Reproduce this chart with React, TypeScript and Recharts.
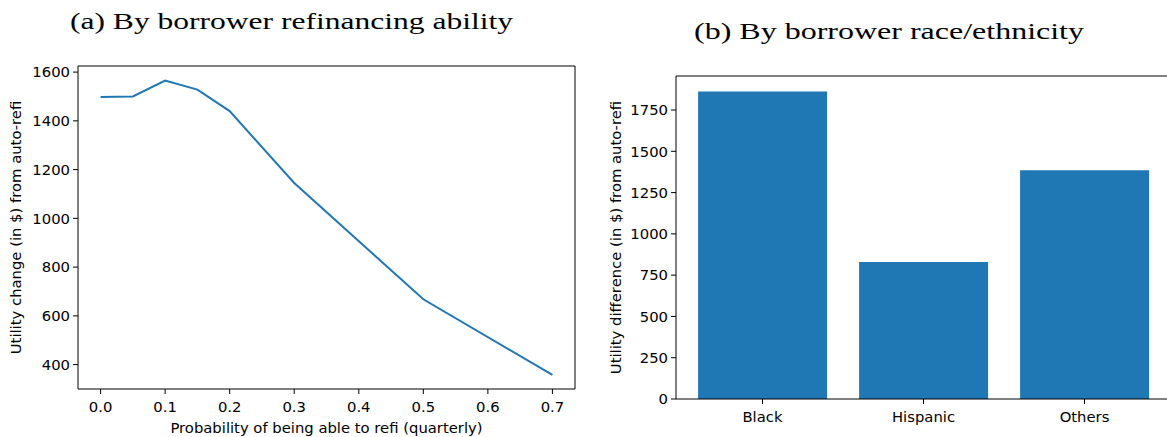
import React from "react";
import {
  Bar,
  BarChart,
  CartesianGrid,
  Label,
  Line,
  LineChart,
  XAxis,
  YAxis,
} from "recharts";

// (a) utility change by quarterly refi probability
const refiProbability = [0, 0.05, 0.1, 0.15, 0.2, 0.3, 0.5, 0.7];
const utilityChange = [1498, 1500, 1565, 1528, 1440, 1145, 668, 358];
const probTicks = [0, 0.1, 0.2, 0.3, 0.4, 0.5, 0.6, 0.7];
const changeTicks = [400, 600, 800, 1000, 1200, 1400, 1600];

// (b) utility difference by race/ethnicity
const groups = ["Black", "Hispanic", "Others"];
const utilityDiff = [1862, 830, 1385];
const diffTicks = [0, 250, 500, 750, 1000, 1250, 1500, 1750];

const lineData = refiProbability.map((p, i) => ({ p, change: utilityChange[i] }));
const barData = groups.map((group, i) => ({ group, diff: utilityDiff[i] }));

const BLUE = "#1f77b4";
const FONT = "DejaVu Sans";
const tickStyle = { fill: "#000", fontSize: 14.8, fontFamily: FONT };
const axisStroke = { stroke: "#000", strokeWidth: 1 };

// top and right spines, drawn as single grid lines on the plot edges
const topEdge = ({ offset }: any) => [offset.top];
const rightEdge = ({ offset }: any) => [offset.left + offset.width];

function Frame() {
  return (
    <CartesianGrid
      stroke="#000"
      strokeWidth={1}
      horizontalCoordinatesGenerator={topEdge}
      verticalCoordinatesGenerator={rightEdge}
    />
  );
}

function RefiChart() {
  return (
    <LineChart
      width={590}
      height={437}
      data={lineData}
      margin={{ top: 66, right: 15, left: 0, bottom: 0 }}
    >
      <Frame />
      <XAxis
        dataKey="p"
        type="number"
        domain={[-0.035, 0.735]}
        ticks={probTicks}
        tickFormatter={(v: number) => v.toFixed(1)}
        height={48}
        tickSize={5}
        tickMargin={7}
        tick={tickStyle}
        axisLine={axisStroke}
        tickLine={axisStroke}
        allowDataOverflow
      >
        <Label
          value="Probability of being able to refi (quarterly)"
          position="insideBottom"
          offset={4}
          style={{ ...tickStyle, textAnchor: "middle" }}
        />
      </XAxis>
      <YAxis
        type="number"
        domain={[300, 1625]}
        ticks={changeTicks}
        width={78}
        tickSize={5}
        tickMargin={3}
        tick={tickStyle}
        axisLine={axisStroke}
        tickLine={axisStroke}
        allowDataOverflow
      >
        <Label
          value="Utility change (in $) from auto-refi"
          angle={-90}
          position="insideLeft"
          offset={16}
          style={{ ...tickStyle, textAnchor: "middle" }}
        />
      </YAxis>
      <Line
        dataKey="change"
        stroke={BLUE}
        strokeWidth={2}
        dot={false}
        isAnimationActive={false}
      />
    </LineChart>
  );
}

function RaceChart() {
  return (
    <BarChart
      width={572}
      height={437}
      data={barData}
      margin={{ top: 76, right: 0, left: 0, bottom: 0 }}
      barCategoryGap="10%"
    >
      <Frame />
      <XAxis
        dataKey="group"
        height={38}
        padding={{ left: 6, right: 7 }}
        tickSize={5}
        tickMargin={7}
        tick={tickStyle}
        axisLine={axisStroke}
        tickLine={axisStroke}
      />
      <YAxis
        type="number"
        domain={[0, 1956]}
        ticks={diffTicks}
        width={76}
        tickSize={5}
        tickMargin={3}
        tick={tickStyle}
        axisLine={axisStroke}
        tickLine={axisStroke}
        allowDataOverflow
      >
        <Label
          value="Utility difference (in $) from auto-refi"
          angle={-90}
          position="insideLeft"
          offset={16}
          style={{ ...tickStyle, textAnchor: "middle" }}
        />
      </YAxis>
      <Bar dataKey="diff" fill={BLUE} isAnimationActive={false} />
    </BarChart>
  );
}

export default function App() {
  return (
    <div
      style={{
        position: "fixed",
        left: 0,
        top: 0,
        width: 1167,
        height: 437,
        overflow: "hidden",
        background: "#fff",
      }}
    >
      <div style={{ position: "absolute", left: 0, top: 0 }}>
        <RefiChart />
      </div>
      <div style={{ position: "absolute", left: 600, top: 0 }}>
        <RaceChart />
      </div>
      <svg
        width={1167}
        height={60}
        style={{ position: "absolute", left: 0, top: 0, pointerEvents: "none" }}
      >
        <text
          x={70}
          y={29}
          fontFamily="Liberation Serif"
          fontSize={24}
          textLength={443}
          lengthAdjust="spacingAndGlyphs"
          fill="#000"
        >
          (a) By borrower refinancing ability
        </text>
        <text
          x={694}
          y={39}
          fontFamily="Liberation Serif"
          fontSize={24}
          textLength={390}
          lengthAdjust="spacingAndGlyphs"
          fill="#000"
        >
          (b) By borrower race/ethnicity
        </text>
      </svg>
    </div>
  );
}
